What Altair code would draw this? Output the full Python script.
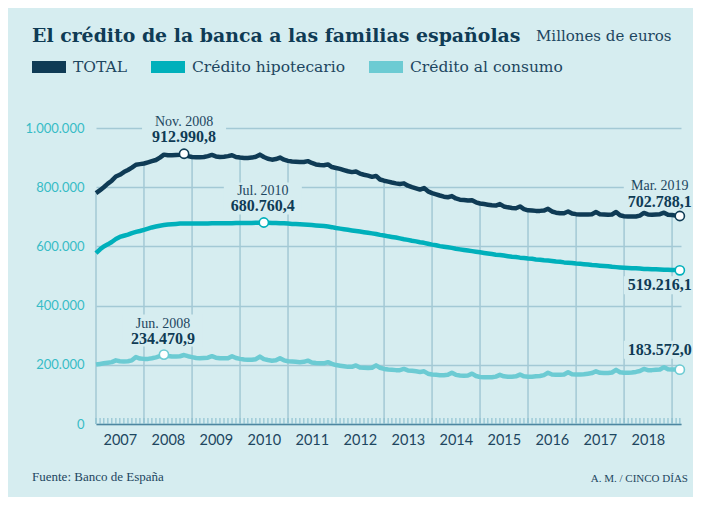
import altair as alt
import pandas as pd

# ---------------- data (millones de euros, mensual ene-2007 .. mar-2019) -------------
series_names = ["TOTAL", "Crédito hipotecario", "Crédito al consumo"]

total = [
    780000, 790000, 800000, 812000, 822000, 836000, 842000, 851000, 858000, 866000, 876000, 878000,   # 2007
    880000, 884000, 888000, 892000, 900000, 910000, 908000, 908000, 909000, 910000, 912990.8, 905000,  # 2008
    902000, 901000, 901000, 902000, 905000, 909000, 904000, 902000, 903000, 905000, 908000, 902000,   # 2009
    900000, 899000, 899000, 900000, 903000, 910000, 902000, 896000, 893000, 895000, 900000, 893000,   # 2010
    889000, 887000, 886000, 885000, 885000, 888000, 882000, 877000, 875000, 874000, 877000, 868000,   # 2011
    865000, 862000, 858000, 854000, 851000, 853000, 846000, 842000, 839000, 835000, 838000, 826000,   # 2012
    822000, 819000, 816000, 813000, 811000, 813000, 805000, 800000, 796000, 792000, 797000, 786000,   # 2013
    780000, 776000, 772000, 768000, 766000, 770000, 762000, 758000, 757000, 755000, 756000, 749000,   # 2014
    745000, 743000, 741000, 739000, 738000, 743000, 735000, 732000, 730000, 729000, 735000, 726000,   # 2015
    722000, 721000, 720000, 720000, 721000, 727000, 718000, 714000, 712000, 712000, 718000, 711000,   # 2016
    709000, 708000, 708000, 708000, 709000, 716000, 709000, 708000, 707000, 708000, 716000, 705000,   # 2017
    702000, 701000, 701000, 701000, 704000, 713000, 708000, 707000, 708000, 709000, 714000, 707000,   # 2018
    706000, 704000, 702788.1,                                                                         # 2019
]

hipotecario = [
    577000, 590000, 600000, 607000, 615000, 625000, 632000, 636000, 640000, 645000, 649000, 652000,
    656000, 660000, 664000, 667000, 670000, 672000, 674000, 675000, 676000, 677000, 677000, 677000,
    677000, 677000, 677000, 677000, 677000, 678000, 678000, 678000, 678000, 678000, 678000, 679000,
    679000, 679000, 679000, 679000, 680000, 680000, 680760.4, 680000, 679000, 679000, 678000, 678000,
    677000, 676000, 676000, 675000, 674000, 673000, 672000, 671000, 670000, 669000, 667000, 665000,
    662000, 660000, 658000, 656000, 654000, 652000, 650000, 648000, 646000, 644000, 642000, 639000,
    637000, 634000, 632000, 630000, 627000, 624000, 622000, 619000, 617000, 614000, 612000, 609000,
    606000, 604000, 601000, 599000, 597000, 595000, 592000, 590000, 588000, 586000, 584000, 582000,
    580000, 578000, 576000, 574000, 572000, 571000, 569000, 567000, 565000, 564000, 562000, 561000,
    559000, 558000, 556000, 555000, 553000, 552000, 551000, 549000, 548000, 546000, 545000, 544000,
    542000, 541000, 540000, 539000, 537000, 536000, 535000, 534000, 533000, 531000, 530000, 529000,
    528000, 527000, 526000, 526000, 525000, 524000, 524000, 523000, 523000, 522000, 521000, 521000,
    520000, 520000, 519216.1,
]

consumo = [
    201000, 203000, 205000, 207000, 209000, 215000, 212000, 211000, 212000, 215000, 226000, 221000,
    220000, 220000, 222000, 225000, 229000, 234470.9, 230000, 228000, 228000, 229000, 233000, 229000,
    226000, 223000, 222000, 223000, 224000, 229000, 224000, 222000, 222000, 222000, 229000, 223000,
    220000, 218000, 217000, 217000, 219000, 228000, 219000, 216000, 214000, 215000, 222000, 215000,
    212000, 211000, 210000, 209000, 210000, 214000, 208000, 206000, 205000, 205000, 209000, 203000,
    199000, 197000, 195000, 193000, 193000, 198000, 191000, 190000, 189000, 190000, 198000, 190000,
    186000, 184000, 183000, 182000, 182000, 186000, 181000, 180000, 178000, 176000, 178000, 170000,
    167000, 166000, 165000, 165000, 166000, 173000, 166000, 164000, 163000, 164000, 170000, 162000,
    159000, 158000, 158000, 158000, 160000, 166000, 161000, 160000, 160000, 161000, 167000, 161000,
    160000, 160000, 161000, 162000, 165000, 173000, 167000, 166000, 166000, 167000, 175000, 168000,
    167000, 167000, 168000, 170000, 172000, 178000, 173000, 172000, 172000, 174000, 183000, 175000,
    173000, 173000, 174000, 176000, 179000, 186000, 182000, 182000, 183000, 184000, 192000, 185000,
    184000, 184000, 183572.0,
]

year_labels = list(range(2007, 2019))
y_ticks = [0, 200000, 400000, 600000, 800000, 1000000]

# highlighted points: (serie, mes, etiqueta de fecha)
highlights = [
    ("TOTAL", "2008-11-01", "Nov. 2008"),
    ("Crédito hipotecario", "2010-07-01", "Jul. 2010"),
    ("Crédito al consumo", "2008-06-01", "Jun. 2008"),
    ("TOTAL", "2019-03-01", "Mar. 2019"),
    ("Crédito hipotecario", "2019-03-01", ""),
    ("Crédito al consumo", "2019-03-01", ""),
]

title_text = "El crédito de la banca a las familias españolas"
subtitle_text = "Millones de euros"
source_text = "Fuente: Banco de España"
credit_text = "A. M. / CINCO DÍAS"

# ---------------- styling -------------
BG = "#d6edf0"
NAVY = "#0f3b55"
TEAL = "#00b0bb"
LIGHT = "#6ccbd3"
GRID = "#a3c9d5"
TICK = "#86bccd"
YLAB = "#36bcc6"
TXT = "#1d4660"
SERIF = "Liberation Serif"
SERIF2 = "DejaVu Serif"
SANS = "Lato"

months = pd.date_range("2007-01-01", periods=len(total), freq="MS")
df = pd.concat(
    [pd.DataFrame({"fecha": months, "serie": n, "valor": v})
     for n, v in zip(series_names, [total, hipotecario, consumo])],
    ignore_index=True,
)


def es_num(v):
    s = f"{v:,.1f}"
    return s.replace(",", "X").replace(".", ",").replace("X", ".")


hl_rows = []
for serie, mes, etiqueta in highlights:
    val = df[(df.serie == serie) & (df.fecha == pd.Timestamp(mes))].valor.iloc[0]
    hl_rows.append({"fecha": pd.Timestamp(mes), "serie": serie, "valor": val,
                    "fechatxt": etiqueta, "valtxt": es_num(val)})
hl = pd.DataFrame(hl_rows)

jan_idx = list(range(0, len(total), 12))
yl = pd.DataFrame({"fecha": months[jan_idx], "cero": 0, "tope": [total[i] for i in jan_idx]})
mt = pd.DataFrame({"fecha": months, "cero": 0})

x_scale = alt.Scale(domain=[alt.DateTime(year=2007, month=1, date=1),
                            alt.DateTime(year=2019, month=3, date=10)])
y_scale = alt.Scale(domain=[0, 1000000], nice=False)
color_scale = alt.Scale(domain=series_names, range=[NAVY, TEAL, LIGHT])

x_axis = alt.Axis(
    values=[alt.DateTime(year=y, month=7, date=1) for y in year_labels],
    format="%Y", labelFont=SANS, labelFontSize=14.5, labelColor=TXT,
    ticks=False, grid=False, domain=True, domainColor="#4d86a0", domainWidth=1.5,
    labelPadding=9, labelOverlap=False, labelFlush=False, title=None,
)
y_axis = alt.Axis(
    values=y_ticks,
    labelExpr="replace(format(datum.value, ','), regexp(',', 'g'), '.')",
    labelFont=SANS, labelFontSize=13, labelColor=YLAB, labelPadding=12,
    ticks=False, domain=False, grid=True, gridColor=GRID, gridWidth=1.5, title=None,
)


def X(field="fecha:T"):
    return alt.X(field, scale=x_scale, axis=x_axis)


def Y(field="valor:Q"):
    return alt.Y(field, scale=y_scale, axis=y_axis)


year_lines = alt.Chart(yl).mark_rule(color=GRID, strokeWidth=1.5).encode(
    x=X(), y=Y("cero:Q"), y2="tope:Q")

month_ticks = alt.Chart(mt).mark_tick(orient="vertical", color=TICK, thickness=1.5,
                                      size=6, yOffset=-3).encode(x=X(), y=Y("cero:Q"))

lines = alt.Chart(df).mark_line(strokeWidth=4.5, strokeJoin="round").encode(
    x=X(), y=Y(),
    color=alt.Color("serie:N", scale=color_scale, sort=series_names,
                    legend=alt.Legend(
                        title=None, orient="none", legendX=-70, legendY=-84, padding=0,
                        direction="horizontal", columns=3,
                        symbolType="stroke", symbolSize=1156, symbolStrokeWidth=12,
                        labelFont=SERIF2, labelFontSize=15.5, labelColor=TXT,
                        labelOffset=1, columnPadding=-1, labelLimit=400,
                    )),
)

points = alt.Chart(hl).mark_circle(size=85, fill="white", strokeWidth=1.6, opacity=1).encode(
    x=X(), y=Y(), stroke=alt.Stroke("serie:N", scale=color_scale, legend=None))

# label layout (style offsets):
# (row, dx, dy fecha, dy valor, box width, box height, box dy)
layout = [
    (0, 0, -32, -17, 84, 32, -25),
    (1, -1, -31, -16, 78, 32, -24),
    (2, -1, -31, -16, 80, 32, -24),
    (3, -20, -30, -14, 72, 32, -22),
    (4, -20, None, 15, 72, 18, 15),
    (5, -20, None, -20, 72, 18, -20),
]

boxes, labels = [], []
for i, dx, dyf, dyv, bw, bh, bdy in layout:
    row = hl.iloc[[i]]
    base = alt.Chart(row).encode(x=X(), y=Y())
    h = bh / bw
    boxes.append(base.mark_point(shape=f"M-1,{-h:.4f}H1V{h:.4f}H-1Z", size=bw * bw,
                                 filled=True, color=BG, opacity=1, strokeWidth=0,
                                 xOffset=dx, yOffset=bdy))
    if dyf is not None:
        labels.append(base.mark_text(dx=dx, dy=dyf, font=SERIF, fontSize=14, color=TXT)
                      .encode(text="fechatxt:N"))
    labels.append(base.mark_text(dx=dx, dy=dyv, font=SERIF, fontSize=16, fontWeight="bold",
                                 color=NAVY).encode(text="valtxt:N"))

subtitle = alt.Chart(pd.DataFrame({"t": [subtitle_text]})).mark_text(
    font=SERIF2, fontSize=15, color=TXT, align="left", baseline="alphabetic").encode(
    text="t:N", x=alt.value(440), y=alt.value(-87))
source = alt.Chart(pd.DataFrame({"t": [source_text]})).mark_text(
    font=SERIF, fontSize=13, color=TXT, align="left", baseline="middle").encode(
    text="t:N", x=alt.value(-64), y=alt.value(349))
credit = alt.Chart(pd.DataFrame({"t": [credit_text]})).mark_text(
    font=SERIF, fontSize=11, color=TXT, align="right", baseline="middle").encode(
    text="t:N", x=alt.value(592), y=alt.value(351))

chart = alt.layer(
    year_lines, month_ticks, *boxes, lines, points, *labels, subtitle, source, credit
).properties(
    width=585, height=296,
    title=alt.Title(title_text, anchor="start", frame="group", font=SERIF2, fontSize=18.9,
                    fontWeight="bold", color=NAVY, dx=-64, offset=2, dy=19),
    padding={"left": 88, "top": 120, "right": 12, "bottom": 73},
    autosize=alt.AutoSizeParams(type="none"),
    background=BG,
).configure_view(stroke=None)

chart.save("out.html", embed_options={"renderer": "svg", "actions": False})
